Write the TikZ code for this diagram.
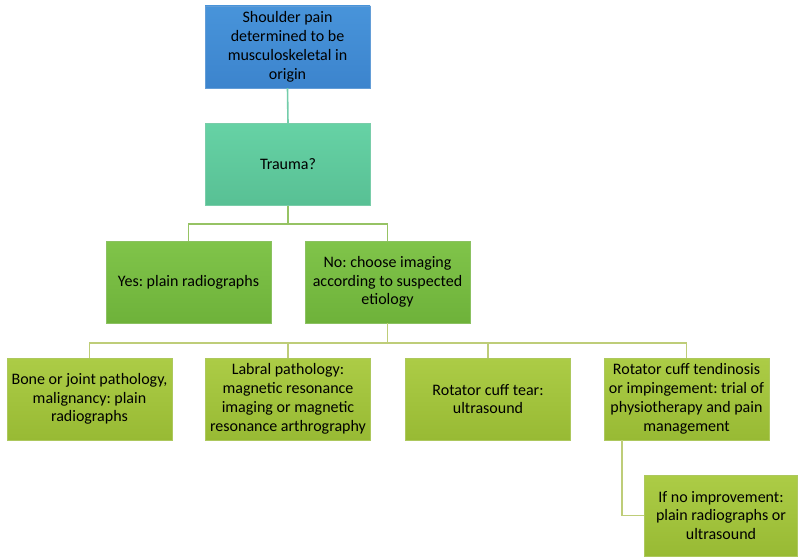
\documentclass[tikz,border=0pt]{standalone}
\usepackage{fontspec}
\setmainfont{Carlito}
\frenchspacing
\definecolor{boxblue}{RGB}{72,148,218}
\definecolor{boxblueD}{RGB}{60,132,205}
\definecolor{boxmint}{RGB}{102,210,165}
\definecolor{boxmintD}{RGB}{88,192,148}
\definecolor{boxgreen}{RGB}{128,196,74}
\definecolor{boxgreenD}{RGB}{110,178,58}
\definecolor{boxolive}{RGB}{172,204,70}
\definecolor{boxoliveD}{RGB}{152,186,52}
\definecolor{linkmint}{RGB}{115,205,170}
\definecolor{linkgreen}{RGB}{150,195,100}
\definecolor{linkolive}{RGB}{190,205,120}
\begin{document}
\begin{tikzpicture}[x=1pt, y=-1pt,
	box/.style={rectangle, minimum width=165pt, minimum height=82pt, inner sep=2pt, align=center, font=\fontsize{16}{18.8}\selectfont, text=black},
	link/.style={line width=1.6pt}]
	\useasboundingbox (0,0) rectangle (799,556);
	\node[box, top color=boxblue, bottom color=boxblueD, draw=boxblueD!80](origin) at (287.5,47){Shoulder pain\\determined to be\\musculoskeletal in\\origin};
	\node[box, top color=boxmint, bottom color=boxmintD, draw=boxmintD!80](trauma) at (288,164.5){Trauma?};
	\node[box, top color=boxgreen, bottom color=boxgreenD, draw=boxgreenD!80](yes) at (188.5,282){Yes: plain radiographs};
	\node[box, top color=boxgreen, bottom color=boxgreenD, draw=boxgreenD!80](no) at (387.5,282){No: choose imaging\\according to suspected\\etiology};
	\node[box, top color=boxolive, bottom color=boxoliveD, draw=boxoliveD!80](bone) at (89.5,399){Bone or joint pathology,\\malignancy: plain\\radiographs};
	\node[box, top color=boxolive, bottom color=boxoliveD, draw=boxoliveD!80](labral) at (288,399){Labral pathology:\\magnetic resonance\\imaging or magnetic\\resonance arthrography};
	\node[box, top color=boxolive, bottom color=boxoliveD, draw=boxoliveD!80](tear) at (488,399){Rotator cuff tear:\\ultrasound};
	\node[box, top color=boxolive, bottom color=boxoliveD, draw=boxoliveD!80](tendon) at (686.5,399){Rotator cuff tendinosis\\or impingement: trial of\\physiotherapy and pain\\management};
	\node[box, minimum width=153pt, minimum height=81pt, top color=boxolive, bottom color=boxoliveD, draw=boxoliveD!80](noimp) at (721,515.5){If no improvement:\\plain radiographs or\\ultrasound};
	\draw [link, draw=linkmint] (origin.south) -- (trauma.north);
	\draw [link, draw=linkgreen] (trauma.south) -- ++(0,18) -| (yes.north);
	\draw [link, draw=linkgreen] (trauma.south) -- ++(0,18) -| (no.north);
	\draw [link, draw=linkolive] (no.south) -- ++(0,20) -| (bone.north);
	\draw [link, draw=linkolive] (no.south) -- ++(0,20) -| (labral.north);
	\draw [link, draw=linkolive] (no.south) -- ++(0,20) -| (tear.north);
	\draw [link, draw=linkolive] (no.south) -- ++(0,20) -| (tendon.north);
	\draw [link, draw=linkolive] ([xshift=18pt]tendon.south west) |- (noimp.west);
\end{tikzpicture}
\end{document}
